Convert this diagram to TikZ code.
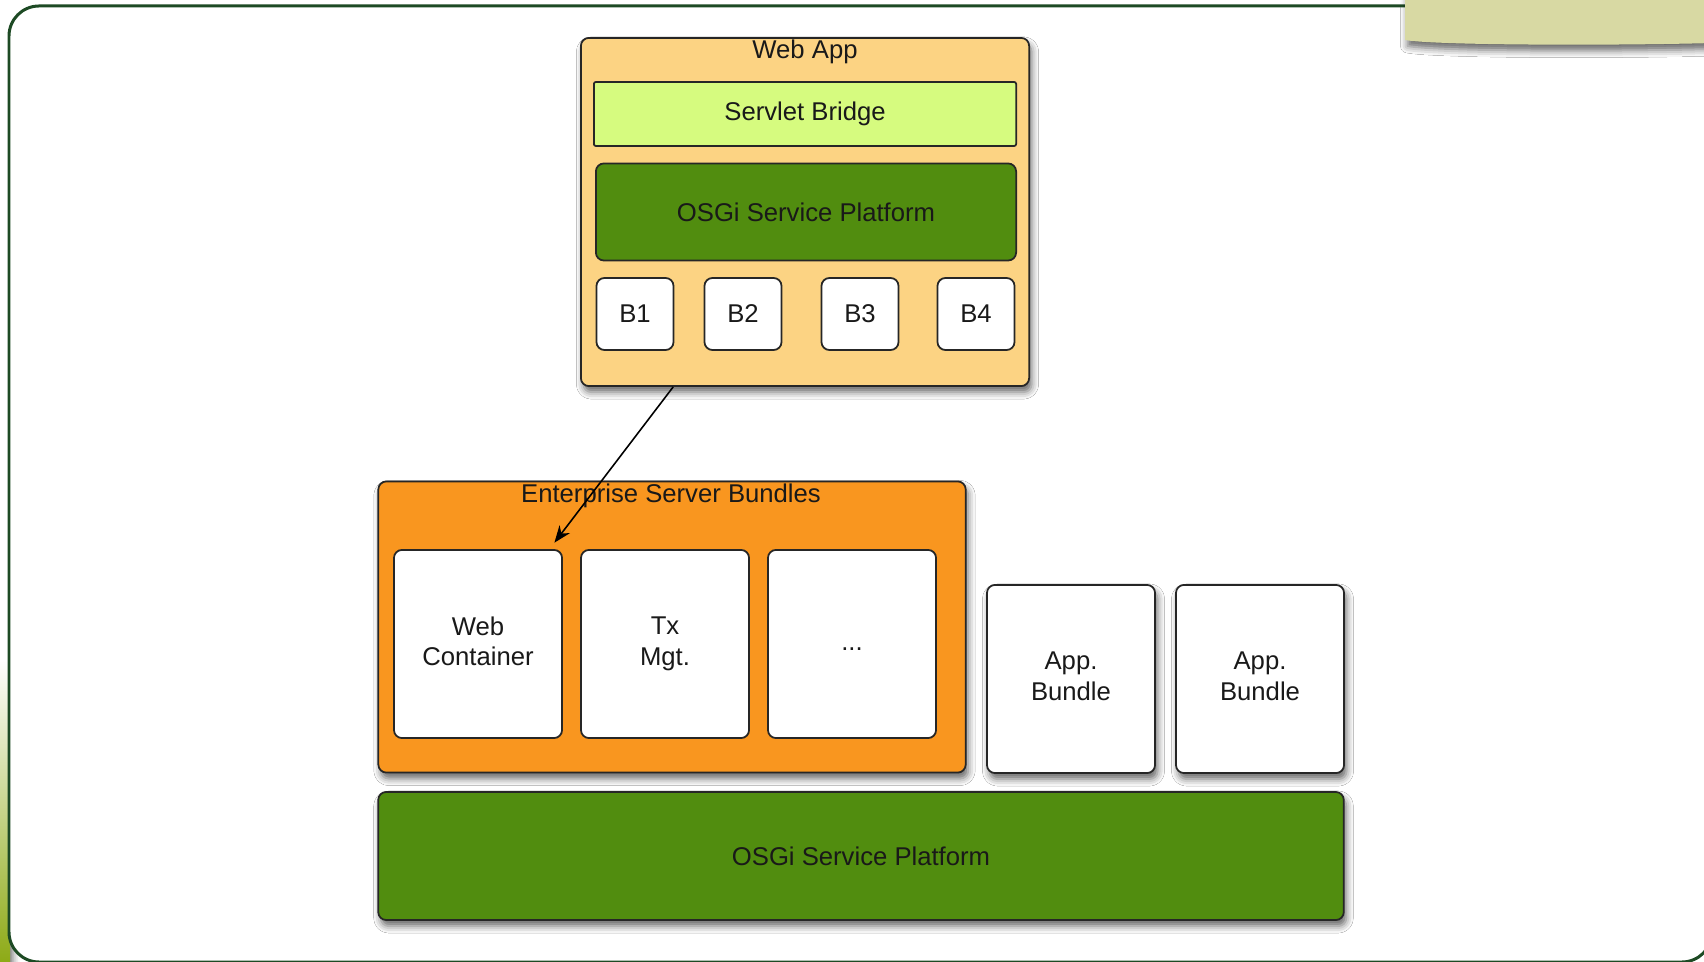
\documentclass[tikz,border=0pt]{standalone}
\usepackage{fontspec}
\setmainfont{Liberation Sans}
\usetikzlibrary{arrows.meta,shadows.blur}

\definecolor{frame}{HTML}{1D4A24}
\definecolor{webappfill}{HTML}{FCD383}
\definecolor{bridgefill}{HTML}{D6FB7F}
\definecolor{osgifill}{HTML}{518D0F}
\definecolor{esbfill}{HTML}{F9961F}
\definecolor{notefill}{HTML}{D8D9A3}
\definecolor{olive}{HTML}{8DAA16}

\tikzset{
  px/.style={x=0.01cm,y=-0.01cm},
  box/.style={draw=black!85, line width=0.5pt, rounded corners=0.08cm, inner sep=0pt,
    align=center, text=black!90, font=\fontsize{7.3}{8.7}\selectfont},
  shade/.style={blur shadow={shadow xshift=0.025cm, shadow yshift=-0.06cm,
    shadow blur radius=0.07cm, shadow opacity=60}},
  title/.style={inner sep=0pt, text=black!90, font=\fontsize{7.3}{8.7}\selectfont},
  bundle/.style={box, fill=white, minimum width=0.77cm, minimum height=0.72cm},
  big/.style={box, fill=white, minimum width=1.68cm, minimum height=1.88cm,
    execute at begin node=\vphantom{Ag}, execute at end node=\vphantom{Ag}}
}

\begin{document}
\begin{tikzpicture}[px]
  \useasboundingbox (0,0) rectangle (1704,962);
  \shade[top color=white, bottom color=olive] (0,660) rectangle (10,962);
  \fill[white, rounded corners=0.3cm] (9,6) rectangle (1712,962);
  \draw[frame, line width=0.85pt, rounded corners=0.3cm] (9,6) rectangle (1712,962);
  \fill[notefill, shade] (1405,-10) -- (1714,-10) -- (1714,43)
    .. controls (1600,46) and (1430,45) .. (1405,40) -- cycle;

  % web app
  \node[box, shade, fill=webappfill, minimum width=4.48cm, minimum height=3.48cm] (webapp) at (805,212) {};
  \node[title] (webapptitle) at (805,52) {Web App};
  \node[box, fill=bridgefill, rounded corners=0.02cm, minimum width=4.22cm, minimum height=0.64cm] (bridge) at (805,114) {Servlet Bridge};
  \node[box, fill=osgifill, minimum width=4.20cm, minimum height=0.97cm] (osgiweb) at (806,212) {OSGi Service Platform};
  \node[bundle] (b1) at (635,314) {B1};
  \node[bundle] (b2) at (743,314) {B2};
  \node[bundle] (b3) at (860,314) {B3};
  \node[bundle] (b4) at (976,314) {B4};

  % server
  \node[box, shade, fill=esbfill, minimum width=5.87cm, minimum height=2.91cm] (esb) at (672,627) {};
  \node[title] (esbtitle) at (671,496) {Enterprise Server Bundles};
  \node[big] (webc) at (478,644) {Web\\Container};
  \node[big] (txmgt) at (665,644) {Tx\\Mgt.};
  \node[big] (more) at (852,644) {...};
  \node[big, shade] (app1) at (1071,679) {App.\\Bundle};
  \node[big, shade] (app2) at (1260,679) {App.\\Bundle};
  \node[box, shade, fill=osgifill, minimum width=9.65cm, minimum height=1.28cm] (osgi) at (861,856) {OSGi Service Platform};

  \draw[black, line width=0.45pt, -{Stealth[length=0.17cm, width=0.13cm]}, shorten >=0.08cm]
    (webapp.233) -- (webc.53);
\end{tikzpicture}
\end{document}
